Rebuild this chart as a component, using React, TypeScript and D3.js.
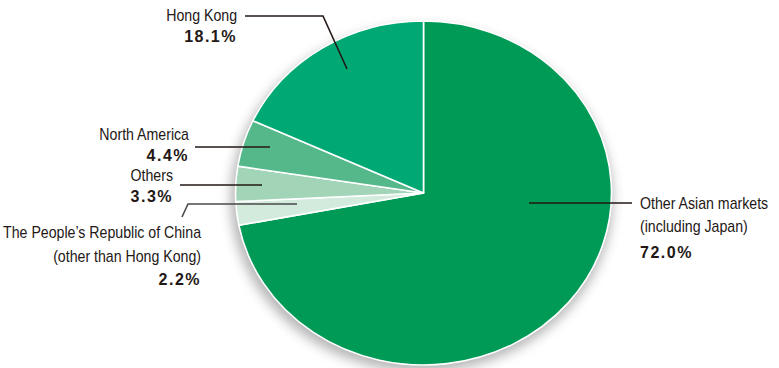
import React from "react";
import * as d3 from "d3";

const categories = [
  "Other Asian markets (including Japan)",
  "The People\u2019s Republic of China (other than Hong Kong)",
  "Others",
  "North America",
  "Hong Kong",
];
const values = [72.0, 2.2, 3.3, 4.4, 18.1];
const labelLines = [
  ["Other Asian markets", "(including Japan)"],
  ["The People\u2019s Republic of China", "(other than Hong Kong)"],
  ["Others"],
  ["North America"],
  ["Hong Kong"],
];
const colors = ["#009a57", "#d3ebdd", "#a2d5b8", "#54b88b", "#00a874"];

// annotation layout (leader lines and text anchors)
const layouts = [
  { line: [[529, 203], [632, 203]], x: 640, anchor: "start", ys: [209, 232], py: 258 },
  { line: [[297, 204], [188, 204], [182, 217]], x: 201, anchor: "end", ys: [238, 262], py: 285, gray: true },
  { line: [[262, 185], [180, 185]], x: 173, anchor: "end", ys: [181], py: 202 },
  { line: [[270, 147], [195, 147]], x: 189, anchor: "end", ys: [140], py: 161 },
  { line: [[347, 69], [323, 16], [245, 16]], x: 237, anchor: "end", ys: [21], py: 42 },
];

const W = 779, H = 368;
const cx = 423.5, cy = 193, rx = 188, ry = 172;
const condense = 0.885;

export default function App() {
  const pie = d3.pie<number>().sort(null).value((d) => d);
  const arcs = pie(values);
  const arc = d3.arc<d3.PieArcDatum<number>>().innerRadius(0).outerRadius(ry);
  const fmt = d3.format(".1f");
  const lineGen = d3.line();
  const font = "'Liberation Sans', Arial, Helvetica, sans-serif";
  return (
    <svg width={W} height={H} style={{ position: "absolute", left: 0, top: 0 }}>
      <defs>
        <filter id="sh" x="-20%" y="-20%" width="140%" height="140%">
          <feGaussianBlur stdDeviation="6" />
        </filter>
      </defs>
      <ellipse cx={cx - 2} cy={cy + 6} rx={rx + 3} ry={ry + 1} fill="#8f8f8f" opacity={0.65} filter="url(#sh)" />
      <g transform={`translate(${cx},${cy}) scale(${rx / ry},1)`}>
        {arcs.map((a, i) => (
          <path
            key={categories[i]}
            d={arc(a) || ""}
            fill={colors[i]}
            stroke="#ffffff"
            strokeWidth={1.6}
            vectorEffect="non-scaling-stroke"
            strokeLinejoin="round"
          />
        ))}
      </g>
      {layouts.map((l, i) => (
        <g key={"lab" + i}>
          <path
            d={lineGen(l.line as [number, number][]) || ""}
            fill="none"
            stroke={l.gray ? "#4a4a4a" : "#231815"}
            strokeWidth={1.6}
          />
          {labelLines[i].map((t, j) => (
            <text
              key={j}
              transform={`translate(${l.x},${l.ys[j]}) scale(${condense},1)`}
              textAnchor={l.anchor as any}
              fontFamily={font}
              fontSize={16}
              fill="#231815"
            >
              {t}
            </text>
          ))}
          <text
            x={l.x}
            y={l.py}
            textAnchor={l.anchor as any}
            fontFamily={font}
            fontWeight="bold"
            fontSize={16}
            letterSpacing={1.5}
            fill="#231815"
          >
            {fmt(values[i]) + "%"}
          </text>
        </g>
      ))}
    </svg>
  );
}
